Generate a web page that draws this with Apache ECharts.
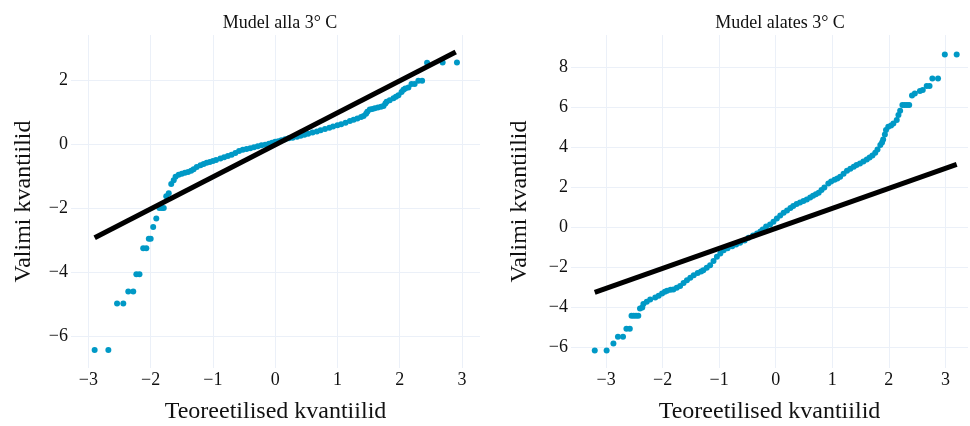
<!DOCTYPE html>
<html>
<head>
<meta charset="utf-8">
<title>QQ-graafikud</title>
<script src="https://cdn.jsdelivr.net/npm/echarts@6/dist/echarts.min.js"></script>
</head>
<body style="margin: 0">
<div id="main" style="width: 970px; height: 426px"></div>
<script>
// Mudel alla 3° C
const allaX = [-2.90, -2.68, -2.54, -2.44, -2.36, -2.28, -2.23, -2.18, -2.12, -2.07, -2.03, -2.00, -1.96, -1.91, -1.86, -1.82, -1.79, -1.75, -1.71, -1.67,
  -1.63, -1.60, -1.55, -1.50, -1.45, -1.40, -1.35, -1.31, -1.26, -1.20, -1.15, -1.10, -1.05, -1.00, -0.95, -0.88, -0.82, -0.76, -0.70, -0.64,
  -0.58, -0.52, -0.46, -0.40, -0.34, -0.28, -0.22, -0.16, -0.10, -0.05, 0.00, 0.05, 0.10, 0.16, 0.22, 0.28, 0.35, 0.41, 0.47, 0.53,
  0.60, 0.67, 0.73, 0.80, 0.87, 0.93, 1.00, 1.06, 1.13, 1.20, 1.26, 1.32, 1.38, 1.42, 1.46, 1.48, 1.52, 1.56, 1.60, 1.65,
  1.70, 1.74, 1.77, 1.79, 1.84, 1.90, 1.94, 1.98, 2.03, 2.06, 2.09, 2.14, 2.19, 2.24, 2.30, 2.36, 2.44, 2.69, 2.92];
const allaY = [-6.44, -6.44, -4.98, -4.98, -4.61, -4.61, -4.07, -4.07, -3.26, -3.26, -2.96, -2.96, -2.59, -2.33, -2.00, -2.00, -2.00, -1.63, -1.54, -1.25,
  -1.13, -1.02, -0.96, -0.93, -0.90, -0.87, -0.83, -0.79, -0.72, -0.66, -0.62, -0.58, -0.56, -0.53, -0.50, -0.45, -0.41, -0.37, -0.33, -0.28,
  -0.22, -0.18, -0.15, -0.13, -0.10, -0.07, -0.04, -0.02, 0.01, 0.04, 0.07, 0.09, 0.12, 0.15, 0.18, 0.20, 0.23, 0.26, 0.29, 0.32,
  0.36, 0.39, 0.43, 0.47, 0.51, 0.55, 0.59, 0.62, 0.67, 0.72, 0.76, 0.80, 0.85, 0.88, 0.95, 1.01, 1.08, 1.10, 1.12, 1.14,
  1.17, 1.19, 1.27, 1.32, 1.37, 1.43, 1.48, 1.53, 1.63, 1.70, 1.74, 1.77, 1.88, 1.88, 1.98, 1.98, 2.54, 2.55, 2.55];
const allaLineX = [-2.90, 2.90];
const allaLineY = [-2.93, 2.88];

// Mudel alates 3° C
const alatesX = [-3.20, -2.99, -2.87, -2.79, -2.70, -2.64, -2.58, -2.55, -2.51, -2.47, -2.43, -2.40, -2.36, -2.34, -2.28, -2.22, -2.13, -2.07, -2.01, -1.96,
  -1.92, -1.86, -1.81, -1.75, -1.69, -1.63, -1.57, -1.51, -1.45, -1.38, -1.32, -1.28, -1.22, -1.16, -1.10, -1.04, -0.98, -0.92, -0.85, -0.77,
  -0.70, -0.63, -0.55, -0.48, -0.40, -0.33, -0.27, -0.23, -0.17, -0.10, -0.04, 0.02, 0.08, 0.14, 0.20, 0.26, 0.31, 0.37, 0.43, 0.49,
  0.55, 0.61, 0.66, 0.71, 0.76, 0.81, 0.86, 0.93, 0.98, 1.04, 1.09, 1.14, 1.20, 1.26, 1.32, 1.38, 1.43, 1.49, 1.55, 1.61,
  1.66, 1.71, 1.76, 1.80, 1.85, 1.88, 1.90, 1.93, 1.95, 1.99, 2.04, 2.08, 2.14, 2.17, 2.20, 2.24, 2.28, 2.32, 2.36, 2.41,
  2.46, 2.55, 2.60, 2.67, 2.72, 2.77, 2.87, 2.99, 3.20];
const alatesY = [-6.15, -6.15, -5.80, -5.47, -5.47, -5.07, -5.07, -4.42, -4.42, -4.42, -4.42, -4.05, -4.00, -3.83, -3.72, -3.60, -3.50, -3.42, -3.30, -3.22,
  -3.17, -3.12, -3.10, -3.02, -2.93, -2.78, -2.64, -2.52, -2.39, -2.28, -2.20, -2.14, -2.02, -1.89, -1.68, -1.47, -1.30, -1.14, -1.04, -0.94,
  -0.86, -0.77, -0.65, -0.52, -0.40, -0.30, -0.20, -0.10, 0.05, 0.15, 0.28, 0.45, 0.60, 0.73, 0.85, 0.97, 1.07, 1.17, 1.25, 1.32,
  1.40, 1.49, 1.58, 1.66, 1.73, 1.87, 2.00, 2.20, 2.30, 2.38, 2.45, 2.53, 2.68, 2.83, 2.93, 3.03, 3.12, 3.20, 3.30, 3.40,
  3.50, 3.60, 3.73, 3.90, 4.12, 4.25, 4.40, 4.65, 4.87, 5.03, 5.10, 5.20, 5.37, 5.62, 5.83, 6.12, 6.12, 6.12, 6.12, 6.60,
  6.70, 6.82, 6.87, 7.07, 7.07, 7.45, 7.45, 8.65, 8.65];
const alatesLineX = [-3.20, 3.20];
const alatesLineY = [-3.25, 3.15];

const xTicks = [-3, -2, -1, 0, 1, 2, 3];
const allaYTicks = [-6, -4, -2, 0, 2];
const alatesYTicks = [-6, -4, -2, 0, 2, 4, 6, 8];

const font = 'Liberation Serif';
const pointColor = '#0099C6';
const gridColor = '#EBF0F8';

function pairs(xs, ys) {
  return xs.map((x, i) => [x, ys[i]]);
}

function minus(v) {
  return v < 0 ? '\u2212' + Math.abs(v) : String(v);
}

function makeAxis(gridIndex, min, max, ticks, name, nameGap) {
  return {
    type: 'value',
    gridIndex: gridIndex,
    min: min,
    max: max,
    name: name,
    nameLocation: 'middle',
    nameGap: nameGap,
    nameTextStyle: { fontFamily: font, fontSize: 24, color: '#111' },
    axisLine: { show: false },
    axisTick: { show: false, customValues: ticks },
    axisLabel: {
      customValues: ticks,
      fontFamily: font,
      fontSize: 18,
      color: '#111',
      margin: 3,
      formatter: minus
    },
    splitLine: { show: true, lineStyle: { color: gridColor, width: 1 } }
  };
}

const chart = echarts.init(document.getElementById('main'));

chart.setOption({
  animation: false,
  backgroundColor: '#fff',
  title: [
    { text: 'Mudel alla 3° C', left: 275, top: 9, textAlign: 'center',
      textStyle: { fontFamily: font, fontSize: 18, fontWeight: 'normal', color: '#111' } },
    { text: 'Mudel alates 3° C', left: 775, top: 9, textAlign: 'center',
      textStyle: { fontFamily: font, fontSize: 18, fontWeight: 'normal', color: '#111' } }
  ],
  grid: [
    { left: 71, right: 490, top: 35, bottom: 58, containLabel: false, outerBoundsMode: 'none' },
    { left: 571, right: 2, top: 35, bottom: 58, containLabel: false, outerBoundsMode: 'none' }
  ],
  xAxis: [
    makeAxis(0, -3.28, 3.29, xTicks, 'Teoreetilised kvantiilid', 32),
    makeAxis(1, -3.62, 3.40, xTicks, 'Teoreetilised kvantiilid', 32)
  ],
  yAxis: [
    makeAxis(0, -7.0, 3.41, allaYTicks, 'Valimi kvantiilid', 35),
    makeAxis(1, -7.03, 9.62, alatesYTicks, 'Valimi kvantiilid', 39)
  ],
  series: [
    {
      type: 'scatter', xAxisIndex: 0, yAxisIndex: 0, silent: true,
      symbolSize: 6, itemStyle: { color: pointColor, opacity: 1 },
      data: pairs(allaX, allaY)
    },
    {
      type: 'line', xAxisIndex: 0, yAxisIndex: 0, silent: true, showSymbol: false,
      lineStyle: { color: '#000', width: 5 },
      data: pairs(allaLineX, allaLineY)
    },
    {
      type: 'scatter', xAxisIndex: 1, yAxisIndex: 1, silent: true,
      symbolSize: 6, itemStyle: { color: pointColor, opacity: 1 },
      data: pairs(alatesX, alatesY)
    },
    {
      type: 'line', xAxisIndex: 1, yAxisIndex: 1, silent: true, showSymbol: false,
      lineStyle: { color: '#000', width: 5 },
      data: pairs(alatesLineX, alatesLineY)
    }
  ]
});
</script>
</body>
</html>
